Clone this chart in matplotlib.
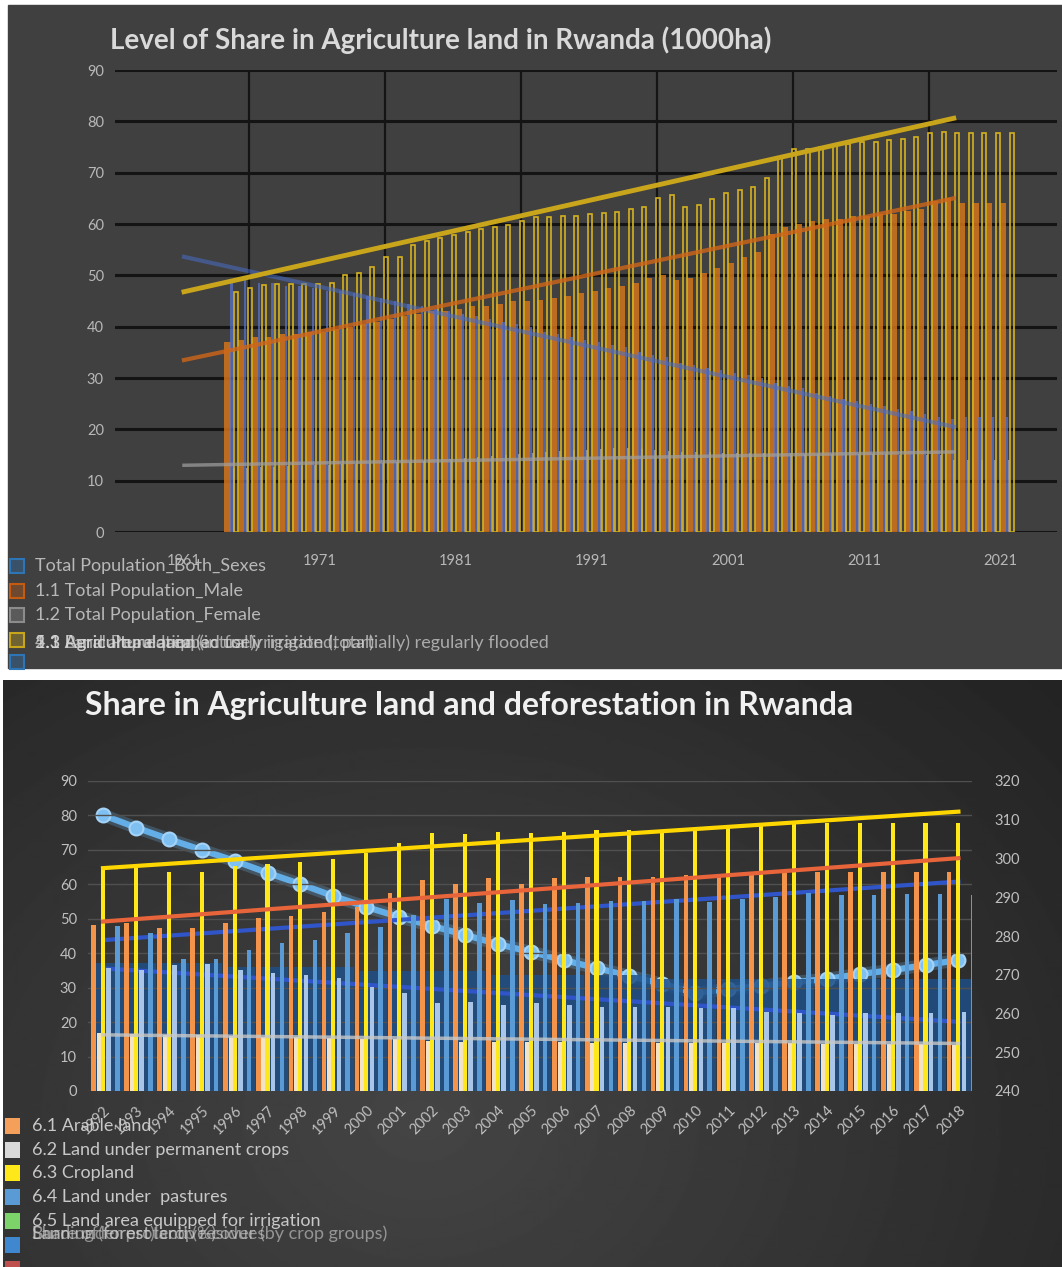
import matplotlib.pyplot as plt
import numpy as np
from matplotlib.patches import Rectangle

plt.rcParams['font.family'] = ['Lato', 'DejaVu Sans']

W, H = 1062, 1267

# ---------------- top chart data (1000 ha) ----------------
top_years = list(range(1964, 2022))
top_both = [49, 49, 48.5, 48.5, 48, 48, 47.5, 47, 47, 46.5, 46, 45.5, 45, 44.5, 44, 43.5,
            43, 42.5, 42, 41.5, 41, 40.5,
            40, 39, 38.5, 38, 37.5, 37, 36.5, 36, 35, 34.5, 34, 33, 32.5, 32, 31.5, 31,
            30.5, 30, 29, 28.5, 28, 27, 26.5, 26, 25.5, 25, 24.5, 24, 23.5, 23, 22.5, 22,
            22.5, 22.5, 22.5, 22.5]
top_male = [37, 37.5, 38, 38, 38.5, 38.5, 39, 39, 39.5, 40, 40.5, 41, 41.5, 42, 42.5, 43,
            43, 43.5, 44, 44, 44.5, 45,
            45, 45.2, 45.5, 46, 46.5, 47, 47.5, 48, 48.5, 49.5, 50, 49, 49.5, 50.5, 51.5,
            52.5, 53.5, 54.5, 58, 59.5, 60, 60.5, 61, 61, 61.5, 61.5, 62, 62, 62.5, 63,
            64.5, 65, 64, 64, 64, 64]
top_female = [12.5, 12.5, 12.6, 12.7, 12.8, 12.9, 13.0,
              13.1, 13.2, 13.3, 13.4, 13.5, 13.6, 13.7, 13.8, 14.0, 14.2,
              14.4, 14.6, 14.8, 15.0, 15.2, 15.4, 15.6, 15.8, 16.0, 16.0,
              16.2, 16.3, 16.3, 16.2, 16.0, 15.8, 15.6, 15.5, 15.5, 15.4,
              15.4, 15.4, 15.3, 15.3, 15.3, 15.2, 15.2, 15.2, 15.2, 15.1,
              15.1, 15.1, 15.0, 15.0, 15.0, 15.0, 14.0, 14.0, 14.0, 14.0, 14.0]
top_rural = [46.8, 47.5, 48.1, 48.3, 48.3, 48.3, 48.3, 48.5, 50.0, 50.4, 51.7, 53.6, 53.6,
             55.9, 56.6, 57.2, 57.9, 58.5, 59.0, 59.4, 59.8, 60.5,
             61.4, 61.4, 61.5, 61.6, 62.0, 62.1, 62.4, 63.0, 63.4, 65.0, 65.6, 63.4, 63.7,
             64.9, 66.0, 66.6, 67.3, 68.9, 73.1, 74.7, 74.7, 75.0, 75.4, 75.5, 76.0, 76.0,
             76.4, 76.6, 77.0, 77.7, 78.0, 77.8, 77.7, 77.7, 77.7, 77.7]
# linear trend lines (start / end)
top_trend_x = [1961, 2017.6]
trend_rural = [46.8, 80.6]
trend_male = [33.5, 65.0]
trend_both = [53.6, 20.5]
trend_female = [13.0, 15.6]

top_legend = ['Total Population_Both_Sexes', '1.1 Total Population_Male',
              '1.2 Total Population_Female']
top_garbled = ['1.3 Rural Population', '2.1 Agricultural land (in use)',
               '4.1 Land area equipped for irrigation (total)',
               '5.3 Agriculture area (actually irrigated, partially) regularly flooded']

# ---------------- bottom chart data ----------------
bot_years = list(range(1992, 2019))
arable = [48.2, 48.7, 47.2, 47.2, 48.7, 50.1, 50.8, 52.0, 53.5, 57.4, 61.3, 60.1, 61.7, 60.0,
          61.7, 62.0, 62.0, 62.0, 62.7, 62.7, 62.7, 63.2, 63.7, 63.7, 63.7, 63.7, 63.7]
perm_crops = [16.8, 16.5, 16.3, 16.2, 16.1, 15.8, 15.6, 15.4, 15.2, 15.0, 14.5, 14.3, 14.2,
              14.2, 14.1, 14.0, 14.0, 13.9, 13.9, 13.8, 13.8, 13.8, 13.7, 13.7, 13.6, 13.6, 13.5]
cropland = [64.7, 64.9, 63.7, 63.7, 65.3, 65.9, 66.6, 67.3, 69.0, 72.1, 74.8, 74.6, 75.3, 74.8,
            75.3, 75.8, 75.8, 75.8, 76.0, 76.3, 76.8, 77.5, 77.7, 77.7, 77.7, 77.7, 77.7]
meadows = [35.6, 35.1, 36.6, 37.0, 35.1, 34.2, 33.7, 32.7, 30.3, 28.4, 25.5, 25.9, 25.0, 25.5,
           25.0, 24.5, 24.5, 24.5, 24.0, 24.0, 23.0, 22.6, 22.1, 22.6, 22.6, 22.6, 23.0]
pastures = [48.0, 46.0, 38.3, 38.3, 40.9, 42.9, 43.8, 45.8, 47.7, 51.1, 55.7, 54.7, 55.5, 54.3,
            54.7, 55.3, 55.3, 55.7, 55.0, 55.7, 56.4, 57.6, 56.8, 56.8, 57.2, 57.2, 56.8]
forest = [311.2, 308.0, 305.0, 302.2, 299.4, 296.3, 293.4, 290.3, 287.5, 284.9, 282.6, 280.3,
          277.9, 275.9, 273.8, 271.7, 269.7, 267.6, 265.3, 266.3, 267.1, 268.1, 268.9, 270.2,
          271.2, 272.5, 273.8]
forest_bar = [273, 273, 273, 273, 272, 272, 272, 272, 271, 271, 271, 271, 270, 270, 270, 270,
              270, 269, 269, 269, 269, 269, 269, 269, 269, 269, 269]
bot_trend_x = [0, 26]
btrend_crop = [64.7, 81.1]
btrend_arable = [49.2, 67.6]
btrend_past = [43.8, 60.8]
btrend_mead = [35.6, 20.1]
btrend_perm = [16.3, 13.8]

bot_legend = ['6.1 Arable land', '6.2 Land under permanent crops', '6.3 Cropland',
              '6.4 Land under  pastures', '6.5 Land area equipped for irrigation']
bot_legend_colors = ['#F4A05A', '#D9D9D9', '#FFE81A', '#5B9BD5', '#7CD36A']
bot_garbled = ['Burning (forest) crop residues', 'Share of forest land (%)',
               'Land under protective cover (by crop groups)']

fig = plt.figure(figsize=(W / 100, H / 100), dpi=100)
fig.patch.set_facecolor('white')


def fx(x):
    return x / W


def fy(y):
    return 1 - y / H


def px_axes(x0, y0, x1, y1, **kw):
    return fig.add_axes([fx(x0), fy(y1), (x1 - x0) / W, (y1 - y0) / H], **kw)


# ---------------- panel backgrounds ----------------
fig.patches.append(Rectangle((fx(8), fy(668)), (1062 - 8) / W, (668 - 5) / H,
                             transform=fig.transFigure, color='#404040', zorder=-10))
bg = px_axes(3, 680, 1062, 1267)
yy, xx = np.mgrid[680:1267:2, 3:1062:2]
r = np.sqrt(((xx - 420) / 900.0) ** 2 + ((yy - 1120) / 700.0) ** 2)
shade = np.clip(0.27 - 0.14 * r, 0.11, 0.27)
bg.imshow(shade, cmap='gray', vmin=0, vmax=1, aspect='auto', extent=[0, 1, 0, 1])
bg.set_axis_off()
bg.set_zorder(-5)

# ---------------- top chart ----------------
ax1 = px_axes(115, 70, 1057, 532)
ax1.set_facecolor('none')
ax1.set_xlim(1961 + (115 - 184) / 13.6, 1961 + (1057 - 184) / 13.6)
ax1.set_ylim(0, 90)
yrs = np.array(top_years, dtype=float)

ax1.bar(yrs + 0.2, top_male, width=0.45, color='#D2741C', alpha=0.85, zorder=3)
ax1.bar(yrs + 0.5, top_both, width=0.18, color='#5872C8', alpha=0.75, zorder=3)
ax1.bar(yrs + 0.65, top_female, width=0.14, color='#A8A8B8', alpha=0.75, zorder=3)
ax1.bar(yrs + 0.85, top_rural, width=0.3, facecolor='none', edgecolor='#D4B11E',
        linewidth=1.2, zorder=4)

ax1.plot(top_trend_x, trend_both, color='#4A6CC8', lw=3, alpha=0.55, zorder=5)
ax1.plot(top_trend_x, trend_female, color='#A0A0A0', lw=2.5, alpha=0.7, zorder=5)
ax1.plot(top_trend_x, trend_male, color='#D0661A', lw=3, alpha=0.8, zorder=5)
ax1.plot(top_trend_x, trend_rural, color='#C9A51C', lw=3.5, zorder=6)

ax1.set_yticks(range(0, 91, 10))
ax1.set_xticks(range(1961, 2022, 10))
ax1.set_xticks([1965.8 + 10 * k for k in range(6)], minor=True)
ax1.grid(axis='y', which='major', color='#141414', lw=2.2, zorder=1)
ax1.grid(axis='x', which='minor', color='#141414', lw=1.6, zorder=1)
ax1.set_axisbelow(True)
ax1.tick_params(which='both', length=0, labelsize=10.5, labelcolor='#b8b8b8')
ax1.tick_params(axis='x', pad=16)
ax1.tick_params(axis='y', pad=8)
for s in ax1.spines.values():
    s.set_visible(False)

fig.text(fx(110), fy(40), 'Level of Share in Agriculture land in Rwanda (1000ha)',
         fontsize=20, fontweight='bold', color='#d9d9d9', va='center', ha='left')

# top legend (drawn by hand to keep the overlapping entries)
top_leg_colors = ['#2E75B6', '#C55A11', '#8C8C8C', '#C9A51C', '#2E75B6']
for i, yc in enumerate([566, 591, 615, 640, 662]):
    c = top_leg_colors[i]
    fig.patches.append(Rectangle((fx(10), fy(yc + 7)), 14 / W, 14 / H, transform=fig.transFigure,
                                 facecolor=c, alpha=0.35, edgecolor='none', zorder=5))
    fig.patches.append(Rectangle((fx(10), fy(yc + 7)), 14 / W, 14 / H, transform=fig.transFigure,
                                 facecolor='none', edgecolor=c, lw=1.5, zorder=6))
for i, t in enumerate(top_legend):
    fig.text(fx(35), fy([566, 591, 615][i]), t, fontsize=13, color='#b8b8b8', va='center')
for t in top_garbled:
    fig.text(fx(35), fy(643), t, fontsize=13, color='#d8d8d8', va='center', alpha=0.7)

# ---------------- bottom chart ----------------
ax2 = px_axes(88, 781, 972, 1091)
ax2.set_facecolor('none')
ax2r = ax2.twinx()
idx = np.arange(len(bot_years))
xmin = -(103 - 88) / 32.9
ax2.set_xlim(xmin, xmin + 884 / 32.9)
ax2.set_ylim(0, 90)
ax2r.set_ylim(240, 320)

ax2r.bar(idx + 0.15, forest_bar, width=0.95, color='#1F4F86', alpha=0.85, zorder=1)
ax2r.set_zorder(1)
ax2.set_zorder(2)

bw = 0.14
ax2.plot(bot_trend_x, btrend_past, color='#2F55C8', lw=3, zorder=2)
ax2.plot(bot_trend_x, btrend_mead, color='#2F55C8', lw=3, zorder=2)
ax2.bar(idx - 0.28, arable, width=bw, color='#F4934A', zorder=3)
ax2.bar(idx - 0.115, perm_crops, width=bw, color='#F2E3C6', zorder=3)
ax2.bar(idx, cropland, width=bw * 0.9, color='#FFE81A', zorder=4)
ax2.bar(idx + 0.173, meadows, width=bw, color='#A9C6E8', zorder=3)
ax2.bar(idx + 0.44, pastures, width=bw, color='#5B9BD5', zorder=3)

ax2.plot(bot_trend_x, btrend_perm, color='#C8C8C8', lw=2.5, alpha=0.8, zorder=5)
ax2.plot(bot_trend_x, btrend_arable, color='#E8643A', lw=3, zorder=5)
ax2.plot(bot_trend_x, btrend_crop, color='#FFD700', lw=3, zorder=5)

ax2.set_yticks(range(0, 91, 10))
ax2.yaxis.grid(True, color='#505050', lw=1)
ax2.set_axisbelow(True)
ax2.set_xticks(idx)
ax2.set_xticklabels([str(y) for y in bot_years], rotation=45, ha='right', va='top',
                    rotation_mode='anchor')
ax2.tick_params(length=0, labelsize=10.5, labelcolor='#bfbfbf')
ax2.tick_params(axis='x', pad=9)
ax2.tick_params(axis='y', pad=8)
ax2r.set_yticks(range(240, 321, 10))
ax2r.tick_params(length=0, labelsize=10.5, labelcolor='#bfbfbf', pad=16)
for a in (ax2, ax2r):
    for s in a.spines.values():
        s.set_visible(False)

# forest line on the secondary axis, drawn on its own overlay
ax3 = px_axes(88, 781, 972, 1091)
ax3.set_facecolor('none')
ax3.set_xlim(ax2.get_xlim())
ax3.set_ylim(240, 320)
ax3.plot(idx, forest, color='#6FB7EC', lw=9, alpha=0.25, solid_capstyle='round')
ax3.plot(idx, forest, '-o', color='#63AEE6', lw=4.5, ms=10,
         markerfacecolor='#7FC0F2', markeredgecolor='#A5D3F7', markeredgewidth=1.5)
ax3.set_axis_off()

fig.text(fx(85), fy(705), 'Share in Agriculture land and deforestation in Rwanda',
         fontsize=23, fontweight='bold', color='#f0f0f0', va='center', ha='left')

leg_y = [1126, 1150, 1173, 1197, 1221]
for yc, t, c in zip(leg_y, bot_legend, bot_legend_colors):
    fig.patches.append(Rectangle((fx(5), fy(yc + 8)), 15 / W, 16 / H, transform=fig.transFigure,
                                 facecolor=c, edgecolor='none', zorder=5))
    fig.text(fx(32), fy(yc), t, fontsize=13, color='#c8c8c8', va='center')
fig.patches.append(Rectangle((fx(5), fy(1253)), 15 / W, 16 / H, transform=fig.transFigure,
                             facecolor='#3F88D0', edgecolor='none', zorder=5))
fig.patches.append(Rectangle((fx(5), fy(1267)), 15 / W, 6 / H, transform=fig.transFigure,
                             facecolor='#C0504D', edgecolor='none', zorder=5))
for t in bot_garbled:
    fig.text(fx(32), fy(1234), t, fontsize=13, color='#d0d0d0', va='center', alpha=0.6)

fig.savefig('out.png', dpi=100, facecolor=fig.get_facecolor())
